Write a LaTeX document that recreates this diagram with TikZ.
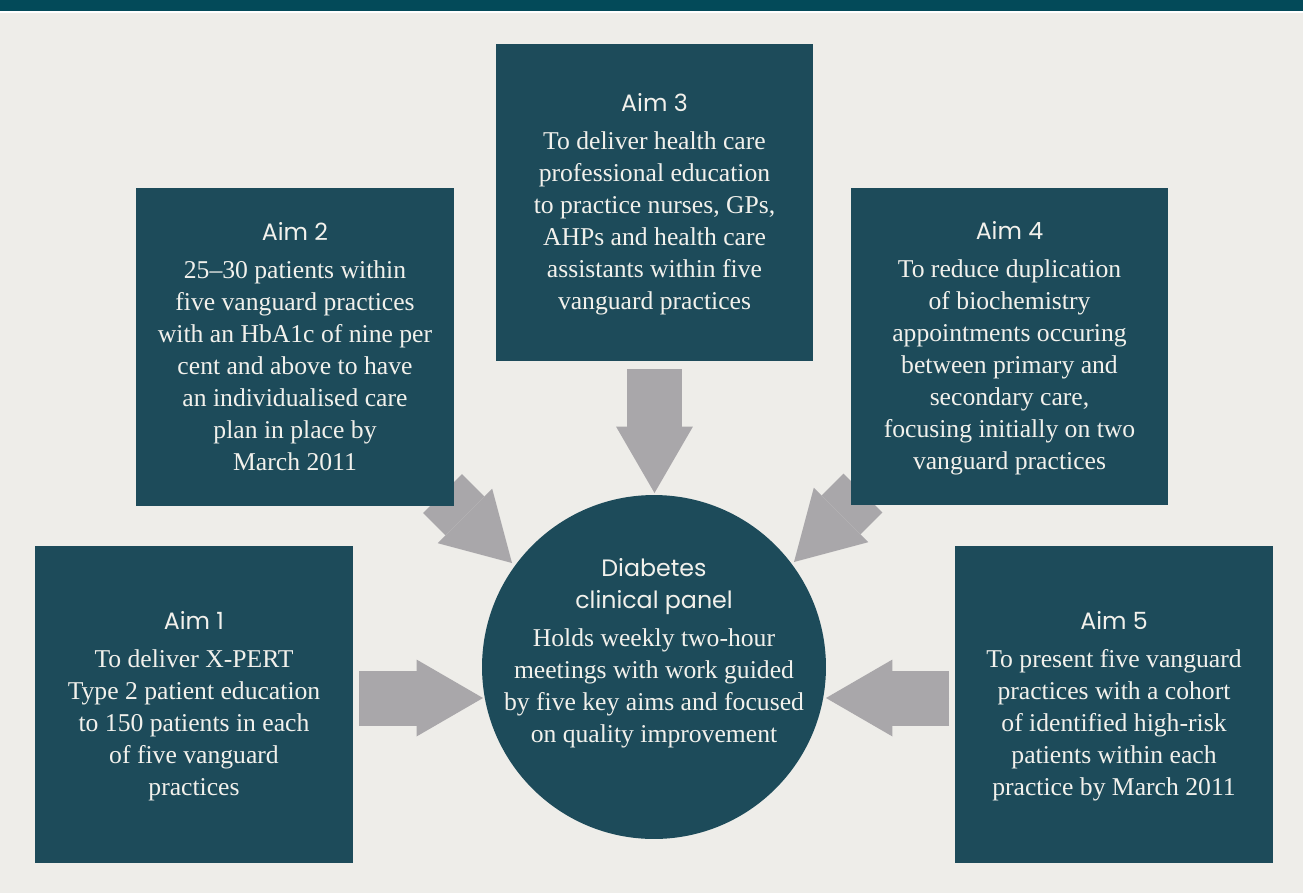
\documentclass[tikz,border=0pt]{standalone}
\usepackage{fontspec}
\setmainfont{Liberation Serif}
\newfontfamily\headfont{Poppins}
\usetikzlibrary{arrows.meta}

\definecolor{paper}{HTML}{EEEDE9}
\definecolor{bandteal}{HTML}{034A59}
\definecolor{boxteal}{HTML}{1D4B5A}
\definecolor{arrowgrey}{HTML}{A9A7AA}
\definecolor{inkwhite}{HTML}{F2F1EC}

\tikzset{
  aimbox/.style={rectangle,fill=boxteal,text=inkwhite,align=center,
    minimum width=6.36cm,minimum height=6.36cm,inner sep=0pt,
    font=\fontsize{14.6}{18.2}\selectfont,execute at end node=\strut},
  bigarrow/.style={draw=arrowgrey,fill=arrowgrey,line width=1.1cm,
    -{Triangle[length=1.33cm,width=1.54cm,line width=0pt]}}
}

\newcommand{\headtext}[1]{{\headfont\fontsize{13.5}{18.2}\selectfont #1}}
\newcommand{\aimhead}[1]{\rule{0pt}{14.8pt}\headtext{#1}}

\begin{document}
\begin{tikzpicture}[x=0.02cm,y=-0.02cm]

        \fill[paper] (0,0) rectangle (1303,893);
        \fill[bandteal] (0,0) rectangle (1303,11);
        \fill[white] (0,11) rectangle (1303,13);

        \coordinate (a1) at (359,698);
        \coordinate (h1) at (483,698);
        \coordinate (a2) at (442.5,493.5);
        \coordinate (h2) at (512,563);
        \coordinate (a3) at (654.5,369);
        \coordinate (h3) at (654.5,493);
        \coordinate (a4) at (863,493);
        \coordinate (h4) at (794,562);
        \coordinate (a5) at (949,698);
        \coordinate (h5) at (826,698);

        \draw[bigarrow] (a1) -- (h1);
        \draw[bigarrow] (a2) -- (h2);
        \draw[bigarrow] (a3) -- (h3);
        \draw[bigarrow] (a4) -- (h4);
        \draw[bigarrow] (a5) -- (h5);

        \begin{scope}[every node/.style={aimbox}]
          \node (aim1) at (194,704.5)  {\aimhead{Aim 1}\\[3.5pt]To deliver X-PERT\\Type 2 patient education\\to 150 patients in each\\of five vanguard\\practices};
          \node (aim2) at (295,347)    {\aimhead{Aim 2}\\[3.5pt]25--30 patients within\\five vanguard practices\\with an HbA1c of nine per\\cent and above to have\\an individualised care\\plan in place by\\March 2011};
          \node (aim3) at (654.5,202.5) {\aimhead{Aim 3}\\[3.5pt]To deliver health care\\professional education\\to practice nurses, GPs,\\AHPs and health care\\assistants within five\\vanguard practices};
          \node (aim4) at (1009.5,346.5) {\aimhead{Aim 4}\\[3.5pt]To reduce duplication\\of biochemistry\\appointments occuring\\between primary and\\secondary care,\\focusing initially on two\\vanguard practices};
          \node (aim5) at (1114,704.5) {\aimhead{Aim 5}\\[3.5pt]To present five vanguard\\practices with a cohort\\of identified high-risk\\patients within each\\practice by March 2011};
        \end{scope}

        \node[circle,fill=boxteal,minimum size=6.88cm,inner sep=0pt] (panel) at (654,667) {};
        \node[text=inkwhite,align=center,font=\fontsize{14.6}{18.2}\selectfont] (paneltext) at (654,653)
          {\headtext{Diabetes}\\\headtext{clinical panel}\\[3.5pt]Holds weekly two-hour\\meetings with work guided\\by five key aims and focused\\on quality improvement};

      \end{tikzpicture}
\end{document}
